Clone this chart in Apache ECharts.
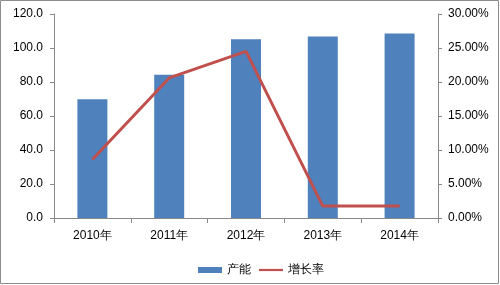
<!DOCTYPE html>
<html><head><meta charset="utf-8">
<script src="https://cdn.jsdelivr.net/npm/echarts@6/dist/echarts.min.js"></script>
<style>html,body{margin:0;padding:0;background:#fff}#c{width:500px;height:285px}</style>
</head><body><div id="c"></div>
<script>
var categories = ['2010年', '2011年', '2012年', '2013年', '2014年'];
var capacity = [69.8, 84.3, 105.1, 106.7, 108.6];
var growth = [8.6, 20.6, 24.5, 1.75, 1.75];
var seriesNames = ['产能', '增长率'];

var chart = echarts.init(document.getElementById('c'), null, {renderer: 'canvas'});
var font = 'Liberation Sans, Arial, sans-serif';
chart.setOption({
  animation: false,
  backgroundColor: '#fff',
  graphic: [{type: 'rect', shape: {x: 0.5, y: 0.5, width: 498, height: 283}, style: {fill: 'none', stroke: '#8c8c8c', lineWidth: 1}}],
  grid: {left: 54, right: 62, top: 14, bottom: 67},
  legend: {
    top: 259, left: 193, itemGap: 8, itemWidth: 24, itemHeight: 6,
    textStyle: {fontFamily: font, fontSize: 12, color: '#000'},
    data: [
      {name: seriesNames[0], icon: 'rect'},
      {name: seriesNames[1], icon: 'path://M0,0 L24,0 L24,2.2 L0,2.2 Z', itemStyle: {color: '#C0504D'}}
    ]
  },
  xAxis: {
    type: 'category', data: categories,
    axisLine: {lineStyle: {color: '#888'}},
    axisTick: {show: true, length: 5, lineStyle: {color: '#888'}},
    axisLabel: {fontFamily: font, fontSize: 12, color: '#000', margin: 12}
  },
  yAxis: [{
    type: 'value', min: 0, max: 120, interval: 20,
    axisLine: {show: true, lineStyle: {color: '#888'}},
    axisTick: {show: true, length: 4, lineStyle: {color: '#888'}},
    splitLine: {show: false},
    axisLabel: {fontFamily: font, fontSize: 12, color: '#000', margin: 11, formatter: function (v) { return v.toFixed(1); }}
  }, {
    type: 'value', min: 0, max: 30, interval: 5, position: 'right',
    axisLine: {show: true, lineStyle: {color: '#888'}},
    axisTick: {show: true, length: 4, lineStyle: {color: '#888'}},
    splitLine: {show: false},
    axisLabel: {fontFamily: font, fontSize: 12, color: '#000', margin: 10, formatter: function (v) { return v.toFixed(2) + '%'; }}
  }],
  series: [{
    name: seriesNames[0], type: 'bar', data: capacity, barWidth: 30,
    itemStyle: {color: '#4F81BD'}
  }, {
    name: seriesNames[1], type: 'line', yAxisIndex: 1, data: growth,
    symbol: 'none', lineStyle: {color: '#C0504D', width: 3}, itemStyle: {color: '#C0504D'}
  }]
});
</script></body></html>
